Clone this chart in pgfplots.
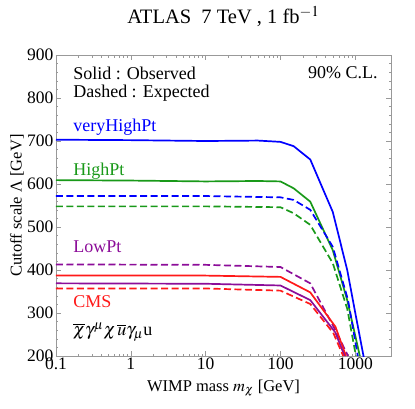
\documentclass[border=0pt]{standalone}
\usepackage{mathptmx}
\usepackage{fontspec}
\setmainfont{Liberation Serif}
\usepackage{pgfplots}
\pgfplotsset{compat=1.18}
\definecolor{cblue}{rgb}{0,0,1}
\definecolor{cgreen}{rgb}{0.1,0.6,0.1}
\definecolor{cpurple}{rgb}{0.55,0.05,0.6}
\definecolor{cred}{rgb}{1,0.1,0.1}
\begin{document}
\begin{tikzpicture}[x=1pt,y=1pt]
\useasboundingbox (0,0) rectangle (415,408);
\begin{axis}[at={(56pt,52pt)}, anchor=south west, scale only axis,
  width=335pt, height=301pt,
  xmode=log, xmin=0.1, xmax=3000, ymin=200, ymax=900,
  xtick={0.1,1,10,100,1000}, xticklabels={0.1,1,10,100,1000},
  ytick={200,300,...,900}, minor y tick num=4,
  tick align=inside, major tick length=5pt, minor tick length=2.5pt,
  every tick/.style={gray!80}, axis line style={gray!80},
  /pgf/number format/assume math mode=true,
  ticklabel style={font=\fontsize{17.5}{19}\selectfont},
  xticklabel style={yshift=2pt},
  yticklabel style={xshift=1pt},
  label style={font=\fontsize{16.5}{18}\selectfont},
  xlabel={WIMP mass $m_\chi$ [GeV]},
  ylabel={Cutoff scale Λ [GeV]},
  xlabel style={at={(axis description cs:0.5,0)}, anchor=center, yshift=-32pt},
  ylabel style={at={(axis description cs:0,0.5)}, anchor=center, yshift=39pt},
  title={ATLAS\ \ 7 TeV , 1 fb$^{-1}$},
  title style={font=\fontsize{20.5}{23}\selectfont, at={(axis description cs:0.5,1)}, anchor=center, yshift=32.5pt},
  every axis plot/.append style={line width=1.7pt, line join=round},
  dashpat/.style={dash pattern=on 7pt off 3.5pt},
]
\addplot[cblue] coordinates {(0.1,703)(1,702)(10,700)(50,701)(100,698)(150,688)(250,657)(500,535)(780,400)(1000,300)(1300,196)};
\addplot[cgreen] coordinates {(0.1,609)(1,608)(10,606)(50,607)(100,606)(150,590)(250,559)(500,446)(780,330)(1150,200)};
\addplot[cblue,dashpat] coordinates {(0.1,572)(10,572)(100,569)(150,563)(250,540)(500,454)(800,330)(1080,200)};
\addplot[cgreen,dashpat] coordinates {(0.1,548)(10,548)(100,546)(150,532)(250,505)(500,416)(780,310)(1020,200)};
\addplot[cpurple,dashpat] coordinates {(0.1,413)(10,412)(100,407)(250,369)(543,260)(800,200)};
\addplot[cred] coordinates {(0.1,387)(10,387)(100,384)(250,348)(543,268)(750,200)};
\addplot[cpurple] coordinates {(0.1,369)(10,368)(100,364)(250,330)(540,255)(720,200)};
\addplot[cred,dashpat] coordinates {(0.1,357)(10,357)(100,352)(250,321)(510,253)(690,200)};
\begin{scope}[every node/.style={font=\fontsize{18}{20}\selectfont, inner sep=0pt}]
\node[anchor=west] at (rel axis cs:0.051,0.94) {Solid : Observed};
\node[anchor=west] at (rel axis cs:0.051,0.874) {Dashed : Expected};
\node[anchor=east] at (rel axis cs:0.961,0.94) {90\% C.L.};
\node[anchor=west, text=cblue] at (rel axis cs:0.051,0.761) {veryHighPt};
\node[anchor=west, text=cgreen] at (rel axis cs:0.051,0.615) {HighPt};
\node[anchor=west, text=cpurple] at (rel axis cs:0.051,0.362) {LowPt};
\node[anchor=west, text=cred] at (rel axis cs:0.051,0.179) {CMS};
\node[anchor=west] at (rel axis cs:0.051,0.08) {$\overline{\chi}\gamma^\mu\chi\,\overline{u}\gamma_\mu$u};
\end{scope}
\end{axis}
\end{tikzpicture}
\end{document}
